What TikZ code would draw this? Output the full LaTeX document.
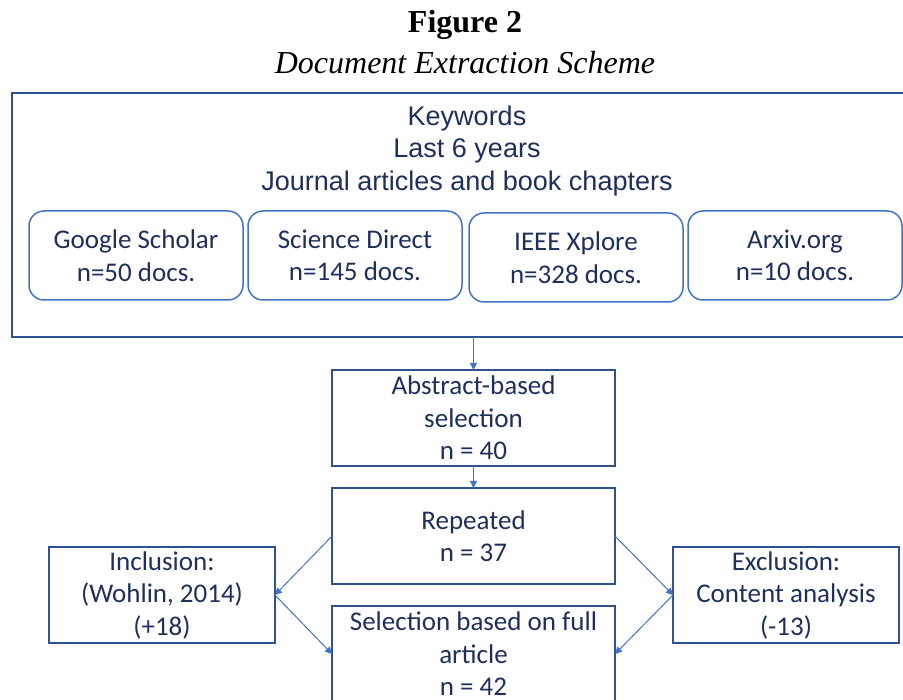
\documentclass[tikz,border=0pt]{standalone}
\usepackage{fontspec}
\setmainfont{Liberation Serif}
\newfontfamily\calibrifont{Carlito}
\newfontfamily\arialfont{Liberation Sans}
\usepackage{tikz}
\usetikzlibrary{positioning}
\usetikzlibrary{arrows.meta}
\definecolor{DarkBlue}{HTML}{2F528F}
\definecolor{LightBlue}{HTML}{4472C4}
\definecolor{NavyText}{HTML}{1F2F5C}
\newcommand{\boxtext}{\calibrifont\fontsize{27}{32.5}\selectfont}
\newcommand{\headtext}{\arialfont\fontsize{27}{32.5}\selectfont}

\begin{document}
\begin{tikzpicture}[x=1pt, y=-1pt,
    stepbox/.style={draw=DarkBlue, line width=2pt, text=NavyText, align=center, inner sep=0pt, outer sep=0pt, minimum width=283pt, minimum height=96pt, font=\boxtext},
    sidebox/.style={stepbox, minimum width=226pt},
    sourcebox/.style={draw=LightBlue, line width=1.5pt, rounded corners=15pt, text=NavyText, align=center, inner sep=0pt, outer sep=0pt, minimum width=214pt, minimum height=89pt, font=\boxtext},
    flow/.style={draw=LightBlue, line width=1pt, -{Triangle[length=7pt,width=7pt]}}]

    \useasboundingbox (0,0) rectangle (903,700);

    %Title
    \node (Title) at (465,25) {\fontsize{32}{38}\selectfont\bfseries Figure 2};
    \node (Subtitle) at (465,63) {\fontsize{32}{38}\selectfont\itshape Document Extraction Scheme};

    %Search frame
    \node[draw=DarkBlue, line width=2pt, inner sep=0pt, outer sep=0pt, minimum width=892pt, minimum height=244pt] (Frame) at (458,215) {};
    \node[text=NavyText, align=center, font=\headtext] (Header) at (467,151) {Keywords\\Last 6 years\\Journal articles and book chapters};

    %Sources
    \node[sourcebox] (Google) at (136,255.5) {Google Scholar\\n=50 docs.};
    \node[sourcebox, right = 5pt of Google] (Science) {Science Direct\\n=145 docs.};
    \node[sourcebox, right = 7pt of Science, yshift=-2pt] (IEEE) {IEEE Xplore\\n=328 docs.};
    \node[sourcebox, right = 5pt of IEEE, yshift=2pt] (Arxiv) {Arxiv.org\\n=10 docs.};

    %-------------------------------------------
    %Selection steps
    \node[stepbox] (Abstract) at (473.5,418) {Abstract-based\\selection\\n = 40};
    \node[stepbox, below = 22pt of Abstract] (Repeated) {Repeated\\n = 37};
    \node[stepbox, below = 22pt of Repeated] (Selection) {Selection based on full\\article\\n = 42};

    \node[sidebox, below left = -37pt and 57pt of Repeated] (Inclusion) {Inclusion:\\(Wohlin, 2014)\\(+18)};
    \node[sidebox, below right = -37pt and 58pt of Repeated] (Exclusion) {Exclusion:\\Content analysis\\(-13)};

    %Arrows
    \draw[flow] (Frame.south -| Abstract.north) -- (Abstract.north);
    \draw[flow] (Abstract.south) -- (Repeated.north);

    \draw[flow] (Repeated.west) -- (Inclusion.east);
    \draw[flow] (Inclusion.east) -- (Selection.west);

    \draw[flow] (Repeated.east) -- (Exclusion.west);
    \draw[flow] (Exclusion.west) -- (Selection.east);

\end{tikzpicture}
\end{document}
